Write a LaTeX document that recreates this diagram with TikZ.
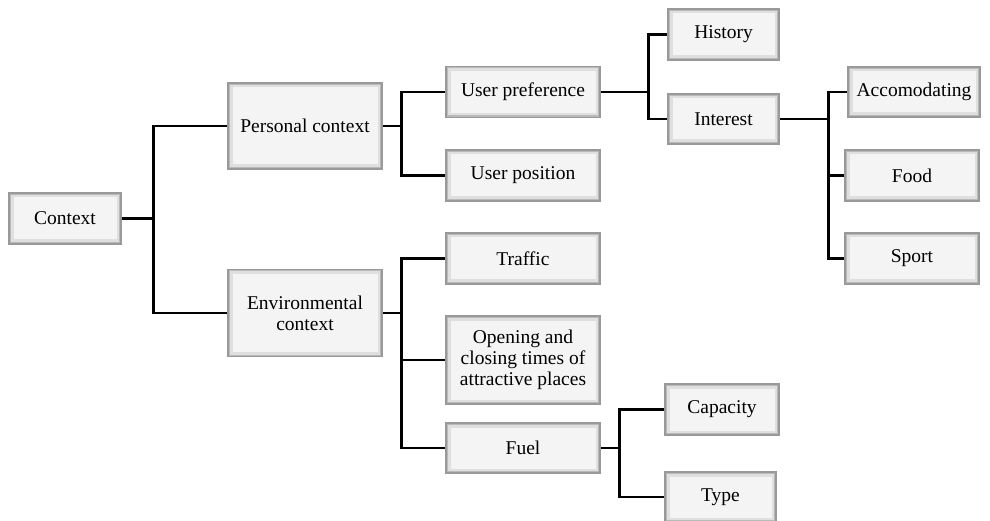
\documentclass[tikz,border=0pt]{standalone}
\usepackage{fontspec}
\setmainfont{Liberation Serif}
\begin{document}
\begin{tikzpicture}[x=1pt,y=-1pt,
  box/.style={draw=gray!80,line width=1.2pt,fill=gray!9,rectangle,inner sep=0pt,
    align=center,font=\fontsize{19.5}{21}\selectfont,
    path picture={\draw[gray!45,line width=5pt] (path picture bounding box.south west) rectangle (path picture bounding box.north east);
                  \draw[gray!25,line width=9pt] (path picture bounding box.south west) rectangle (path picture bounding box.north east);
                  \draw[gray!55,line width=4pt] (path picture bounding box.south west) rectangle (path picture bounding box.north east);}},
  conn/.style={line width=2.8pt,black}]
\useasboundingbox (0,0) rectangle (990,521);
\node[box,minimum width=112pt,minimum height=51pt] (ctx) at (65,218.5) {Context};
\node[box,minimum width=154pt,minimum height=86pt] (pc) at (305,126) {Personal context};
\node[box,minimum width=154pt,minimum height=87pt] (ec) at (305,313) {Environmental\\context};
\node[box,minimum width=154pt,minimum height=51pt] (up) at (523,92) {User preference};
\node[box,minimum width=154pt,minimum height=51pt] (upos) at (523,175.5) {User position};
\node[box,minimum width=154pt,minimum height=51pt] (tr) at (523,258.5) {Traffic};
\node[box,minimum width=154pt,minimum height=88pt] (op) at (523,360) {Opening and\\closing times of\\attractive places};
\node[box,minimum width=154pt,minimum height=50pt] (fu) at (523,448) {Fuel};
\node[box,minimum width=111pt,minimum height=51pt] (hi) at (723.5,34.5) {History};
\node[box,minimum width=111pt,minimum height=50pt] (in) at (723.5,119) {Interest};
\node[box,minimum width=132pt,minimum height=50pt] (ac) at (914,92) {Accomodating};
\node[box,minimum width=134pt,minimum height=51pt] (fo) at (912,175.5) {Food};
\node[box,minimum width=134pt,minimum height=51pt] (sp) at (912,258.5) {Sport};
\node[box,minimum width=114pt,minimum height=51pt] (ca) at (722,409.5) {Capacity};
\node[box,minimum width=111pt,minimum height=50pt] (ty) at (720.5,497) {Type};
% connectors
\draw[conn] (ctx.east) -- ([xshift=32pt]ctx.east) coordinate (b1);
\draw[conn] (b1) |- (pc.west);
\draw[conn] (b1) |- (ec.west);
\draw[conn] (pc.east) -- ([xshift=19pt]pc.east) coordinate (b2);
\draw[conn] (b2) |- (up.west);
\draw[conn] (b2) |- (upos.west);
\draw[conn] (ec.east) -- ([xshift=19pt]ec.east) coordinate (b3);
\draw[conn] (b3) |- (tr.west);
\draw[conn] (b3) |- (op.west);
\draw[conn] (b3) |- (fu.west);
\draw[conn] (up.east) -- ([xshift=48pt]up.east) coordinate (b4);
\draw[conn] (b4) |- (hi.west);
\draw[conn] (b4) |- (in.west);
\draw[conn] (in.east) -- ([xshift=49pt]in.east) coordinate (b5);
\draw[conn] (b5) |- (ac.west);
\draw[conn] (b5) |- (fo.west);
\draw[conn] (b5) |- (sp.west);
\draw[conn] (fu.east) -- ([xshift=19pt]fu.east) coordinate (b6);
\draw[conn] (b6) |- (ca.west);
\draw[conn] (b6) |- (ty.west);
\end{tikzpicture}
\end{document}
